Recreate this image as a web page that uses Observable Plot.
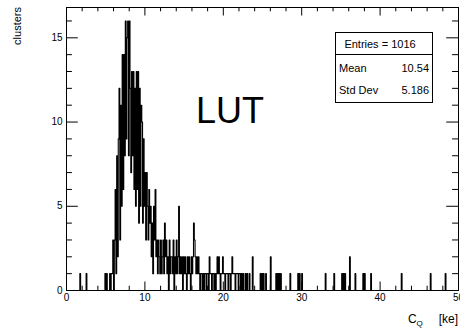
<!DOCTYPE html>
<html><head><meta charset="utf-8">
<script src="https://cdn.jsdelivr.net/npm/d3@7"></script>
<script src="https://cdn.jsdelivr.net/npm/@observablehq/plot@0.6"></script>
<style>
html,body{margin:0;padding:0;background:#fff;}
#chart{width:460px;height:328px;overflow:hidden;}
svg text{font-family:"Liberation Sans",Arial,Helvetica,sans-serif;}
</style></head><body><div id="chart"></div>
<script>
// Histogram: 500 bins of 0.1 ke over [0, 50]
const binWidth = 0.1;
const nBins = 500;
const xDomain = [0, 50];
const yDomain = [0, 16.8];

// counts for bins 0..221
const denseCounts = [
  0,0,0,0,0,0,0,0,0,0,
  0,0,0,0,0,0,0,1,0,0,
  0,0,0,0,0,1,0,0,0,0,
  0,0,0,0,0,0,0,0,0,0,
  0,0,0,0,0,0,0,0,0,1,
  0,1,0,0,0,1,0,1,1,3,
  0,3,6,1,8,2,9,12,3,11,
  5,14,6,14,8,16,9,15,16,8,
  16,12,7,13,8,13,6,12,5,13,
  6,13,4,12,5,11,10,4,9,5,
  7,3,7,5,3,6,4,5,2,4,
  1,5,3,6,2,3,1,3,2,1,
  3,1,2,3,1,4,2,3,1,2,
  0,3,1,2,2,1,3,0,2,1,
  3,1,2,5,1,2,1,2,0,2,
  1,2,1,0,2,1,2,1,0,2,
  1,2,4,3,2,1,2,1,2,1,
  0,1,1,0,1,0,1,1,0,1,
  1,0,2,1,1,0,1,1,0,1,
  0,1,2,1,2,1,0,1,1,2,
  1,1,0,1,1,1,0,1,1,0,
  1,2,1,1,1,0,1,1,1,0,
  1,1
];
// isolated tail bins (bin index) and their counts
const tailBins   = [223,225,228,230,233,237,247,249,251,254,260,267,269,271,273,285,295,297,300,330,341,351,353,355,361,368,378,380,388,427,464,483];
const tailCounts = [1,1,1,1,1,2,1,1,1,1,2,1,1,1,1,1,1,1,1,1,1,1,1,1,2,1,1,1,1,1,1,1];

const xMajorTicks = [0,10,20,30,40,50];
const xMinorTicks = [2,4,6,8,12,14,16,18,22,24,26,28,32,34,36,38,42,44,46,48];
const yMajorTicks = [0,5,10,15];
const yMinorTicks = [1,2,3,4,6,7,8,9,11,12,13,14,16];

const yTitle = "clusters";
const xTitleMain = "C";
const xTitleSub = "Q";
const xTitleUnit = "[ke]";
const annotation = "LUT";
const statsLabels = ["Entries = 1016", "Mean", "Std Dev"];
const statsValues = ["", "10.54", "5.186"];

// build the histogram table
const counts = new Array(nBins).fill(0);
denseCounts.forEach((c, i) => { counts[i] = c; });
tailBins.forEach((b, i) => { counts[b] = tailCounts[i]; });
const steps = counts.map((c, i) => ({x: i * binWidth, y: c}));
steps.push({x: nBins * binWidth, y: counts[nBins - 1]});

const W = 460, H = 328;
const mL = 66, mR = 2, mT = 7, mB = 38;
const fw = W - mL - mR, fh = H - mT - mB;
const xMaj = 8.5, xMin = 4.3, yMaj = 11.8, yMin = 5.9;

const plot = Plot.plot({
  width: W, height: H,
  marginLeft: mL, marginRight: mR, marginTop: mT, marginBottom: mB,
  style: {fontFamily: '"Liberation Sans",Arial,Helvetica,sans-serif', fontSize: "10px", color: "black", background: "white"},
  x: {domain: xDomain},
  y: {domain: yDomain},
  marks: [
    Plot.line(steps, {x: "x", y: "y", curve: "step-after", stroke: "black", strokeWidth: 1.1}),
    // bottom & top x ticks (inward)
    Plot.ruleX(xMajorTicks, {x: d => d, insetTop: fh - xMaj, stroke: "black"}),
    Plot.ruleX(xMinorTicks, {x: d => d, insetTop: fh - xMin, stroke: "black"}),
    Plot.ruleX(xMajorTicks, {x: d => d, insetBottom: fh - xMaj, stroke: "black"}),
    Plot.ruleX(xMinorTicks, {x: d => d, insetBottom: fh - xMin, stroke: "black"}),
    // left & right y ticks (inward)
    Plot.ruleY(yMajorTicks, {y: d => d, insetRight: fw - yMaj, stroke: "black"}),
    Plot.ruleY(yMinorTicks, {y: d => d, insetRight: fw - yMin, stroke: "black"}),
    Plot.ruleY(yMajorTicks, {y: d => d, insetLeft: fw - yMaj, stroke: "black"}),
    Plot.ruleY(yMinorTicks, {y: d => d, insetLeft: fw - yMin, stroke: "black"}),
    Plot.axisX(xMajorTicks, {anchor: "bottom", tickSize: 0, tickPadding: 3, fontSize: 10, label: null, fill: "black"}),
    Plot.axisY(yMajorTicks, {anchor: "left", tickSize: 0, tickPadding: 4, fontSize: 10, label: null, fill: "black"}),
    Plot.frame({stroke: "black", strokeWidth: 1})
  ]
});
document.getElementById("chart").appendChild(plot);

const svg = d3.select(plot);
svg.style("overflow", "hidden");
// y title
svg.append("text")
  .attr("transform", "translate(21,7) rotate(-90)")
  .attr("text-anchor", "end").attr("font-size", 11).attr("fill", "black")
  .text(yTitle);
// x title
const xt = svg.append("text").attr("font-size", 12).attr("fill", "black").attr("text-anchor", "start");
xt.append("tspan").attr("x", 408).attr("y", 323).text(xTitleMain);
xt.append("tspan").attr("x", 416.5).attr("y", 326).attr("font-size", 8).text(xTitleSub);
svg.append("text").attr("x", 458).attr("y", 323).attr("text-anchor", "end")
  .attr("font-size", 12).attr("fill", "black").text(xTitleUnit);
// big annotation
svg.append("text").attr("x", 196).attr("y", 123).attr("text-anchor", "start")
  .attr("font-size", 36).attr("fill", "black").text(annotation);
// stats box
const g = svg.append("g");
g.append("rect").attr("x", 335.5).attr("y", 32.5).attr("width", 97).attr("height", 70)
  .attr("fill", "white").attr("stroke", "black").attr("stroke-width", 1);
g.append("line").attr("x1", 335.5).attr("x2", 432.5).attr("y1", 54.5).attr("y2", 54.5).attr("stroke", "black");
g.append("text").attr("x", 380).attr("y", 48).attr("text-anchor", "middle").attr("font-size", 11).attr("fill", "black").text(statsLabels[0]);
g.append("text").attr("x", 339).attr("y", 72).attr("text-anchor", "start").attr("font-size", 11).attr("fill", "black").text(statsLabels[1]);
g.append("text").attr("x", 429).attr("y", 72).attr("text-anchor", "end").attr("font-size", 11).attr("fill", "black").text(statsValues[1]);
g.append("text").attr("x", 339).attr("y", 94).attr("text-anchor", "start").attr("font-size", 11).attr("fill", "black").text(statsLabels[2]);
g.append("text").attr("x", 429).attr("y", 94).attr("text-anchor", "end").attr("font-size", 11).attr("fill", "black").text(statsValues[2]);
</script>
</body></html>
